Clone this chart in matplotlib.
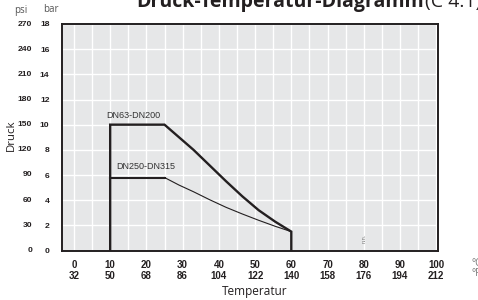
import matplotlib
matplotlib.use("Agg")
import matplotlib.pyplot as plt
from matplotlib.transforms import offset_copy
import numpy as np

# ---- data ----
temp_c = [0, 10, 20, 30, 40, 50, 60, 70, 80, 90, 100]
temp_f = [32, 50, 68, 86, 104, 122, 140, 158, 176, 194, 212]
bar_ticks = [0, 2, 4, 6, 8, 10, 12, 14, 16, 18]
psi_ticks = [0, 30, 60, 90, 120, 150, 180, 210, 240, 270]

# DN63-DN200 (thick)
dn63_t = [10, 10, 25, 29, 33, 37.5, 42, 46.5, 51, 55.5, 60, 60]
dn63_p = [0, 10, 10, 9.0, 8.0, 6.75, 5.5, 4.3, 3.2, 2.3, 1.5, 0]
# DN250-DN315 plateau (thick) and falling curve (thin)
dn250_flat_t = [10, 25]
dn250_flat_p = [5.8, 5.8]
dn250_t = [25, 29, 33, 37.5, 42, 46.5, 51, 55.5, 60]
dn250_p = [5.8, 5.2, 4.67, 4.03, 3.43, 2.9, 2.4, 1.93, 1.5]

W, H = 478, 300
fig = plt.figure(figsize=(W / 100, H / 100), dpi=100)
ax = fig.add_axes([62 / W, 1 - 250.5 / H, (438 - 62) / W, (250.5 - 24) / H])

dark = "#231f20"
ax.set_facecolor("#e6e7e8")
ax.set_xlim(-3.3, 100.5)
ax.set_ylim(0, 18)

# grid
for t in np.arange(0, 101, 5):
    ax.axvline(t, color="white", lw=1.0, zorder=1)
for b in bar_ticks[1:]:
    ax.axhline(b, color="white", lw=1.0, zorder=1)

for s in ax.spines.values():
    s.set_color(dark)
    s.set_linewidth(1.4)
    s.set_zorder(5)

ax.plot(dn63_t, dn63_p, color=dark, lw=1.7, zorder=4, solid_joinstyle="miter")
ax.plot(dn250_flat_t, dn250_flat_p, color=dark, lw=1.5, zorder=4)
ax.plot(dn250_t, dn250_p, color=dark, lw=0.8, zorder=4)

ax.text(8.9, 10.75, "DN63-DN200", fontsize=6.5, family="Liberation Sans",
        color="#333333", va="center", ha="left", zorder=6)
ax.text(11.7, 6.7, "DN250-DN315", fontsize=6.5, family="Liberation Sans",
        color="#333333", va="center", ha="left", zorder=6)

# small mark at 80 °C
ax.text(80, 1.0, "n.n.", fontsize=4, rotation=90, color="#777777",
        ha="center", va="center", family="Liberation Sans", zorder=6)

# ticks
ax.tick_params(length=0)
ax.set_xticks(temp_c)
ax.set_xticklabels([f"{c}\n{f}" for c, f in zip(temp_c, temp_f)],
                   fontsize=7, fontweight="bold", family="Liberation Sans",
                   color=dark, linespacing=1.1)
ax.tick_params(axis="x", pad=7)
ax.set_yticks(bar_ticks)
ax.set_yticklabels([str(b) for b in bar_ticks], fontsize=6.1, fontweight="bold",
                   family="Liberation Sans", color=dark)
ax.tick_params(axis="y", pad=9)

psi_tr = offset_copy(ax.get_yaxis_transform(), fig=fig, x=-30, y=0, units="dots")
for b, p in zip(bar_ticks, psi_ticks):
    ax.text(0, b, str(p), transform=psi_tr, ha="right", va="center",
            fontsize=6.1, fontweight="bold", family="Liberation Sans", color=dark)

# axis labels and units
fig.text(255 / W, 1 - 291 / H, "Temperatur", ha="center", va="center",
         fontsize=8.5, family="Open Sans", color=dark)
fig.text(11.5 / W, 1 - 135 / H, "Druck", ha="center", va="center", rotation=90,
         fontsize=8.2, family="Open Sans", color=dark)
fig.text(21 / W, 1 - 10 / H, "psi", ha="center", va="center",
         fontsize=7, family="Open Sans", color="#555555")
fig.text(51 / W, 1 - 10 / H, "bar", ha="center", va="center",
         fontsize=7, family="Open Sans", color="#555555")
fig.text(471 / W, 1 - 264 / H, "°C", ha="left", va="center",
         fontsize=7, family="Open Sans", color="#777777")
fig.text(471 / W, 1 - 273.5 / H, "°F", ha="left", va="center",
         fontsize=7, family="Open Sans", color="#777777")

# title (partially cut off at the top)
fig.text(136 / W, 1 - 7 / H, "Druck-Temperatur-Diagramm", ha="left", va="baseline",
         fontsize=14, fontweight="bold", family="Open Sans", color=dark)
fig.text(425 / W, 1 - 7 / H, "(C 4.1)", ha="left", va="baseline",
         fontsize=14, family="Open Sans", color=dark)

fig.savefig("out.png", dpi=100)
